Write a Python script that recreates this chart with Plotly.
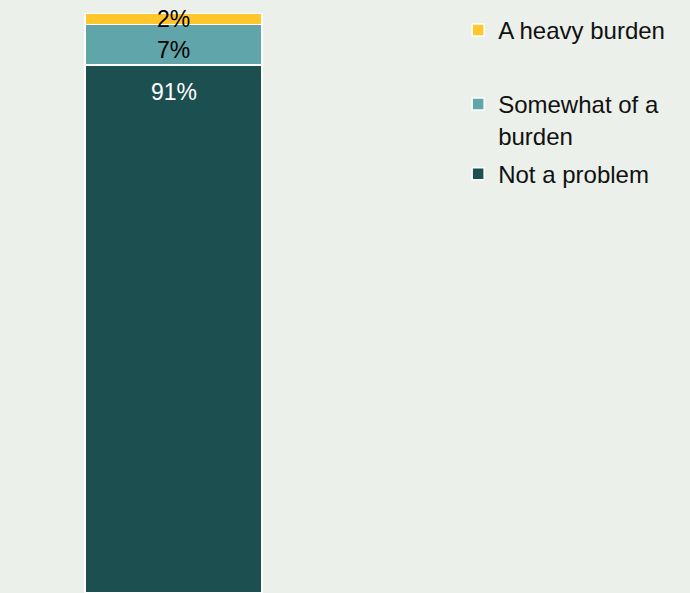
import plotly.graph_objects as go

# Survey answer shares (percent), stacked bottom to top
categories = ["Not a problem", "Somewhat of a burden", "A heavy burden"]
legend_names = ["Not a problem", "Somewhat of a<br>burden", "A heavy burden"]
values = [91, 7, 2]
colors = ["#1B4F50", "#5FA5AA", "#FFC72C"]
label_colors = ["white", "black", "black"]
bar_group = ["All"]

BG = "#EBF0EA"
FONT = "Liberation Sans, Arial, sans-serif"

fig = go.Figure()

legend_keys = ["legend3", "legend2", "legend"]
for name, lname, v, c, lk in zip(categories, legend_names, values, colors, legend_keys):
    fig.add_trace(go.Bar(
        x=bar_group, y=[v], name=lname,
        marker=dict(color=c, line=dict(color="white", width=1.5)),
        legend=lk, hoverinfo="skip",
    ))

# Value labels: placed relative to each stacked segment
annotations = []
bottom = 0
label_mode = ["top", "center", "center"]
label_shift = [-27, -5, 0]
for v, tc, mode, sh in zip(values, label_colors, label_mode, label_shift):
    y = bottom + v if mode == "top" else bottom + v / 2
    annotations.append(dict(
        x=0, y=y, xref="x", yref="y", text=f"{v}%", showarrow=False,
        font=dict(size=23, color=tc, family=FONT),
        yanchor="middle", yshift=sh,
    ))
    bottom += v

W, H = 690, 593
span = 0.8 * W / 177
r0 = -173.5 / W * span

leg_common = dict(
    bgcolor="rgba(0,0,0,0)", font=dict(size=24, color="#111111", family=FONT),
    xanchor="left", yanchor="top", valign="top", itemwidth=30,
)
leg_x = 0.664
fig.update_layout(
    width=W, height=H,
    margin=dict(l=0, r=0, t=13, b=0),
    paper_bgcolor=BG, plot_bgcolor=BG,
    barmode="stack", bargap=0.2,
    xaxis=dict(type="category", range=[r0, r0 + span], visible=False, fixedrange=True),
    yaxis=dict(range=[0, 100], visible=False, fixedrange=True),
    annotations=annotations,
    legend=dict(x=leg_x, y=1.009, **leg_common),
    legend2=dict(x=leg_x, y=0.881, **leg_common),
    legend3=dict(x=leg_x, y=0.761, **leg_common),
    showlegend=True,
)

fig.write_html("out.html")
